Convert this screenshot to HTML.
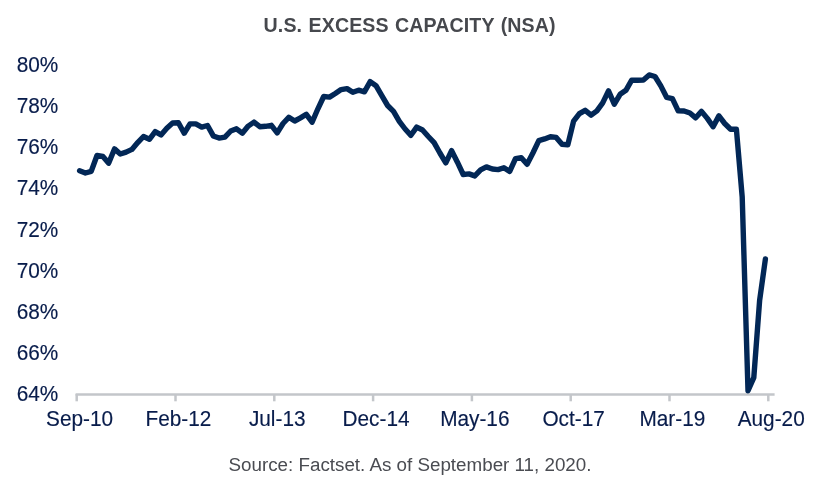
<!DOCTYPE html>
<html><head><meta charset="utf-8"><title>U.S. Excess Capacity (NSA)</title>
<style>
html,body{margin:0;padding:0;background:#fff;}
body{width:825px;height:490px;overflow:hidden;font-family:"Liberation Sans",Arial,sans-serif;}
svg{display:block;}
.t{font-weight:bold;font-size:19.6px;fill:#46484d;letter-spacing:0.1px;word-spacing:0.9px;}
.yl text,.xl text{font-size:20.8px;fill:#081c4b;stroke:#081c4b;stroke-width:0.15px;}
.src{font-size:18.8px;fill:#4a4c52;}
</style></head>
<body>
<svg width="825" height="490" viewBox="0 0 825 490" font-family="Liberation Sans, Arial, sans-serif">
<rect width="825" height="490" fill="#fff"/>
<text class="t" x="409.6" y="31.8" text-anchor="middle">U.S. EXCESS CAPACITY (NSA)</text>
<g class="yl"><text transform="translate(58.3 72.0) scale(1 1.04)" text-anchor="end">80%</text><text transform="translate(58.3 113.2) scale(1 1.04)" text-anchor="end">78%</text><text transform="translate(58.3 154.3) scale(1 1.04)" text-anchor="end">76%</text><text transform="translate(58.3 195.4) scale(1 1.04)" text-anchor="end">74%</text><text transform="translate(58.3 236.6) scale(1 1.04)" text-anchor="end">72%</text><text transform="translate(58.3 277.8) scale(1 1.04)" text-anchor="end">70%</text><text transform="translate(58.3 318.9) scale(1 1.04)" text-anchor="end">68%</text><text transform="translate(58.3 360.1) scale(1 1.04)" text-anchor="end">66%</text><text transform="translate(58.3 401.2) scale(1 1.04)" text-anchor="end">64%</text></g>
<g stroke="#c3c6ca" stroke-width="2.5" fill="none"><line x1="75.6" y1="394.4" x2="774.6" y2="394.4"/><line x1="76.7" y1="394" x2="76.7" y2="401.3"/><line x1="175.5" y1="394" x2="175.5" y2="401.3"/><line x1="274.3" y1="394" x2="274.3" y2="401.3"/><line x1="373.1" y1="394" x2="373.1" y2="401.3"/><line x1="471.9" y1="394" x2="471.9" y2="401.3"/><line x1="570.7" y1="394" x2="570.7" y2="401.3"/><line x1="669.5" y1="394" x2="669.5" y2="401.3"/><line x1="768.3" y1="394" x2="768.3" y2="401.3"/></g>
<g class="xl"><text transform="translate(79.6 426) scale(1 1.03)" text-anchor="middle">Sep-10</text><text transform="translate(178.4 426) scale(1 1.03)" text-anchor="middle">Feb-12</text><text transform="translate(277.2 426) scale(1 1.03)" text-anchor="middle">Jul-13</text><text transform="translate(376.0 426) scale(1 1.03)" text-anchor="middle">Dec-14</text><text transform="translate(474.8 426) scale(1 1.03)" text-anchor="middle">May-16</text><text transform="translate(573.6 426) scale(1 1.03)" text-anchor="middle">Oct-17</text><text transform="translate(672.4 426) scale(1 1.03)" text-anchor="middle">Mar-19</text><text transform="translate(771.2 426) scale(1 1.03)" text-anchor="middle">Aug-20</text></g>
<polyline fill="none" stroke="#022756" stroke-width="5.4" stroke-linejoin="round" stroke-linecap="round" points="79.6,170.8 85.4,173.0 91.2,171.4 97.0,155.5 102.9,156.5 108.7,163.1 114.5,148.9 120.3,154.0 126.1,152.1 131.9,149.4 137.7,142.6 143.5,136.5 149.4,139.3 155.2,131.6 161.0,134.9 166.8,128.2 172.6,123.0 178.4,122.7 184.2,133.2 190.0,123.9 195.8,123.9 201.7,127.1 207.5,125.5 213.3,135.9 219.1,138.1 224.9,137.1 230.7,131.0 236.5,128.8 242.3,133.2 248.2,126.1 254.0,122.1 259.8,126.7 265.6,126.3 271.4,125.3 277.2,132.9 283.0,123.5 288.8,117.3 294.7,121.0 300.5,117.9 306.3,114.3 312.1,122.2 317.9,108.8 323.7,96.5 329.5,97.1 335.3,93.5 341.1,89.6 347.0,88.6 352.8,92.3 358.6,90.2 364.4,91.8 370.2,81.6 376.0,85.7 381.8,95.7 387.6,105.5 393.5,111.4 399.3,121.3 405.1,129.0 410.9,135.3 416.7,127.1 422.5,130.0 428.3,136.5 434.1,142.6 439.9,153.0 445.8,162.8 451.6,150.6 457.4,162.2 463.2,174.5 469.0,173.9 474.8,175.9 480.6,169.9 486.4,166.9 492.3,169.0 498.1,169.6 503.9,167.7 509.7,171.4 515.5,158.6 521.3,157.7 527.1,164.3 532.9,153.0 538.8,140.7 544.6,138.9 550.4,136.7 556.2,137.4 562.0,144.3 567.8,144.9 573.6,121.2 579.4,113.7 585.2,110.3 591.1,115.1 596.9,110.8 602.7,102.9 608.5,90.9 614.3,104.2 620.1,94.3 625.9,90.3 631.7,80.2 637.6,80.2 643.4,80.1 649.2,74.9 655.0,76.5 660.8,85.9 666.6,97.3 672.4,98.6 678.2,110.8 684.1,111.0 689.9,113.0 695.7,117.8 701.5,111.4 707.3,118.4 713.1,126.7 718.9,115.9 724.7,123.5 730.6,129.2 736.4,129.2 742.2,197.0 748.0,390.7 753.8,377.6 759.6,300.7 765.4,259.0"/>
<text class="src" x="410" y="470.7" text-anchor="middle">Source: Factset. As of September 11, 2020.</text>
</svg>
</body></html>
